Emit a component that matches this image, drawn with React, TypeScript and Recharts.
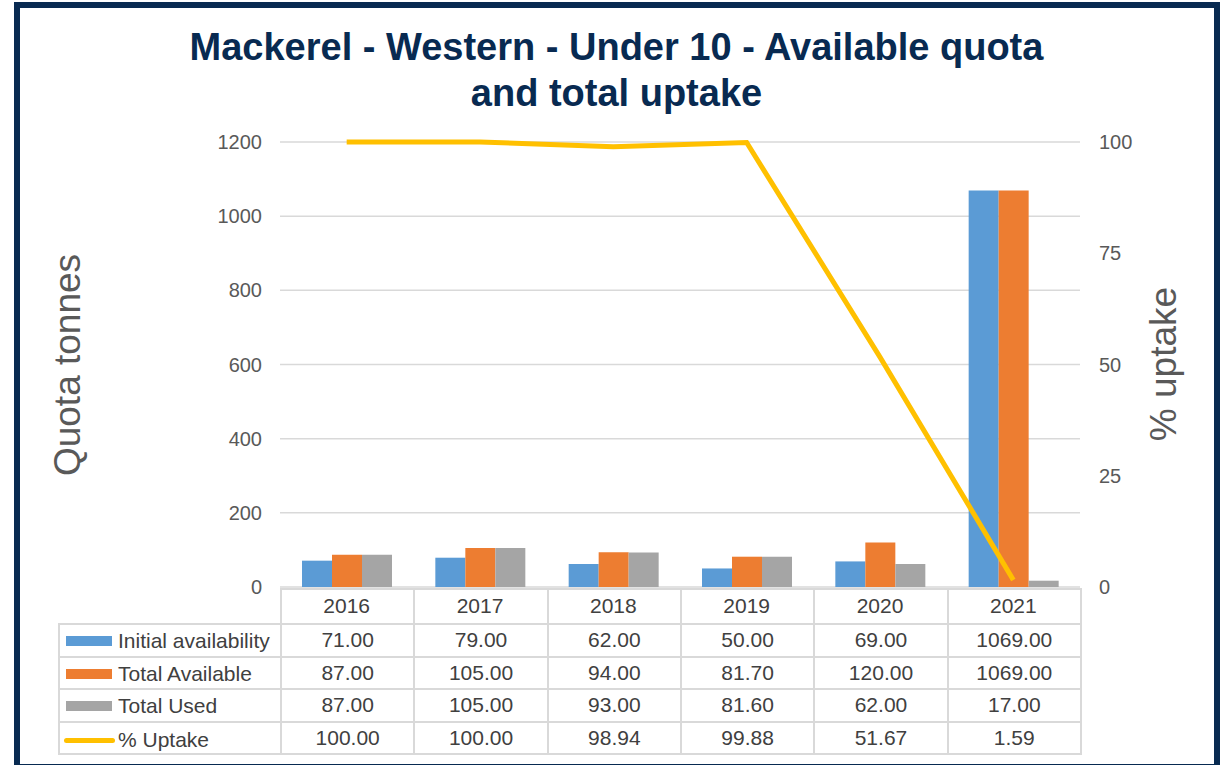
import { ComposedChart, Bar, Line, XAxis, YAxis, CartesianGrid } from "recharts";

const years = ["2016", "2017", "2018", "2019", "2020", "2021"];
const initialAvailability = [71, 79, 62, 50, 69, 1069];
const totalAvailable = [87, 105, 94, 81.7, 120, 1069];
const totalUsed = [87, 105, 93, 81.6, 62, 17];
const uptake = [100, 100, 98.94, 99.88, 51.67, 1.59];

const leftTicks = [0, 200, 400, 600, 800, 1000, 1200];
const rightTicks = [0, 25, 50, 75, 100];

const series = [
  { key: "initial", name: "Initial availability", values: initialAvailability, color: "#5B9BD5", kind: "bar" },
  { key: "available", name: "Total Available", values: totalAvailable, color: "#ED7D31", kind: "bar" },
  { key: "used", name: "Total Used", values: totalUsed, color: "#A5A5A5", kind: "bar" },
  { key: "uptake", name: "% Uptake", values: uptake, color: "#FFC000", kind: "line" },
];

const data = years.map((year, i) => ({
  year,
  initial: initialAvailability[i],
  available: totalAvailable[i],
  used: totalUsed[i],
  uptake: uptake[i],
}));

const NAVY = "#082a51";
const GRID = "#d9d9d9";
const TEXT = "#595959";
const FONT = "'Liberation Sans', Arial, sans-serif";

function DataTable() {
  const cell: React.CSSProperties = {
    border: `2px solid ${GRID}`,
    padding: 0,
    textAlign: "center",
    fontSize: 21,
    color: "#404040",
    whiteSpace: "nowrap",
  };
  return (
    <table
      style={{
        position: "absolute",
        left: 58,
        top: 588,
        width: 1023,
        borderCollapse: "collapse",
        tableLayout: "fixed",
        fontFamily: FONT,
      }}
    >
      <colgroup>
        <col style={{ width: 222 }} />
        {years.map((y) => (
          <col key={y} style={{ width: 800 / 6 }} />
        ))}
      </colgroup>
      <tbody>
        <tr style={{ height: 35 }}>
          <td style={{ ...cell, border: "none" }} />
          {years.map((y) => (
            <td key={y} style={cell} />
          ))}
        </tr>
        {series.map((s) => (
          <tr key={s.key} style={{ height: 32.5 }}>
            <td style={{ ...cell, textAlign: "left" }}>
              <span style={{ display: "inline-flex", alignItems: "center" }}>
                {s.kind === "bar" ? (
                  <span style={{ display: "inline-block", width: 46, height: 10, background: s.color, marginLeft: 6, marginRight: 6 }} />
                ) : (
                  <span style={{ display: "inline-block", width: 51, height: 5, borderRadius: 2.5, background: s.color, marginLeft: 4, marginRight: 3 }} />
                )}
                {s.name}
              </span>
            </td>
            {s.values.map((v, i) => (
              <td key={i} style={cell}>
                {v.toFixed(2)}
              </td>
            ))}
          </tr>
        ))}
      </tbody>
    </table>
  );
}

export default function App() {
  return (
    <div
      style={{
        position: "absolute",
        left: 0,
        top: 0,
        width: 1230,
        height: 765,
        overflow: "hidden",
        background: "#fff",
        fontFamily: FONT,
      }}
    >
      <div
        style={{
          position: "absolute",
          left: 14,
          top: 2,
          width: 1206,
          height: 768,
          boxSizing: "border-box",
          border: `6.5px solid ${NAVY}`,
        }}
      />
      <div
        style={{
          position: "absolute",
          left: 0,
          top: 24,
          width: 1233,
          textAlign: "center",
          fontSize: 38,
          lineHeight: "46px",
          fontWeight: "bold",
          color: NAVY,
        }}
      >
        <div>Mackerel - Western - Under 10 - Available quota</div>
        <div>and total uptake</div>
      </div>
      <div
        style={{
          position: "absolute",
          left: 68,
          top: 365,
          transform: "translate(-50%, -50%) rotate(-90deg)",
          fontSize: 37,
          color: TEXT,
          whiteSpace: "nowrap",
        }}
      >
        Quota tonnes
      </div>
      <div
        style={{
          position: "absolute",
          left: 1164,
          top: 364,
          transform: "translate(-50%, -50%) rotate(-90deg)",
          fontSize: 37,
          color: TEXT,
          whiteSpace: "nowrap",
        }}
      >
        % uptake
      </div>
      <DataTable />
      <div style={{ position: "absolute", left: 0, top: 0 }}>
        <ComposedChart
          width={1230}
          height={765}
          data={data}
          margin={{ top: 142, right: 90, bottom: 142, left: 220 }}
          barGap={0}
        >
          <CartesianGrid yAxisId="left" vertical={false} stroke={GRID} strokeWidth={1.5} />
          <XAxis
            dataKey="year"
            height={36}
            interval={0}
            axisLine={false}
            tickLine={false}
            tickMargin={5}
            tick={{ fontSize: 21, fill: "#404040", fontFamily: FONT }}
          />
          <YAxis
            yAxisId="left"
            width={60}
            domain={[0, 1200]}
            ticks={leftTicks}
            axisLine={false}
            tickLine={false}
            tickMargin={12}
            tick={{ fontSize: 20, fill: TEXT, fontFamily: FONT }}
          />
          <YAxis
            yAxisId="right"
            orientation="right"
            width={60}
            domain={[0, 100]}
            ticks={rightTicks}
            axisLine={false}
            tickLine={false}
            tickMargin={13}
            tick={{ fontSize: 20, fill: TEXT, fontFamily: FONT }}
          />
          {series
            .filter((s) => s.kind === "bar")
            .map((s) => (
              <Bar
                key={s.key}
                yAxisId="left"
                dataKey={s.key}
                name={s.name}
                fill={s.color}
                barSize={30}
                isAnimationActive={false}
              />
            ))}
          <Line
            yAxisId="right"
            dataKey="uptake"
            name="% Uptake"
            stroke="#FFC000"
            strokeWidth={5}
            dot={false}
            activeDot={false}
            isAnimationActive={false}
          />
        </ComposedChart>
      </div>
    </div>
  );
}
